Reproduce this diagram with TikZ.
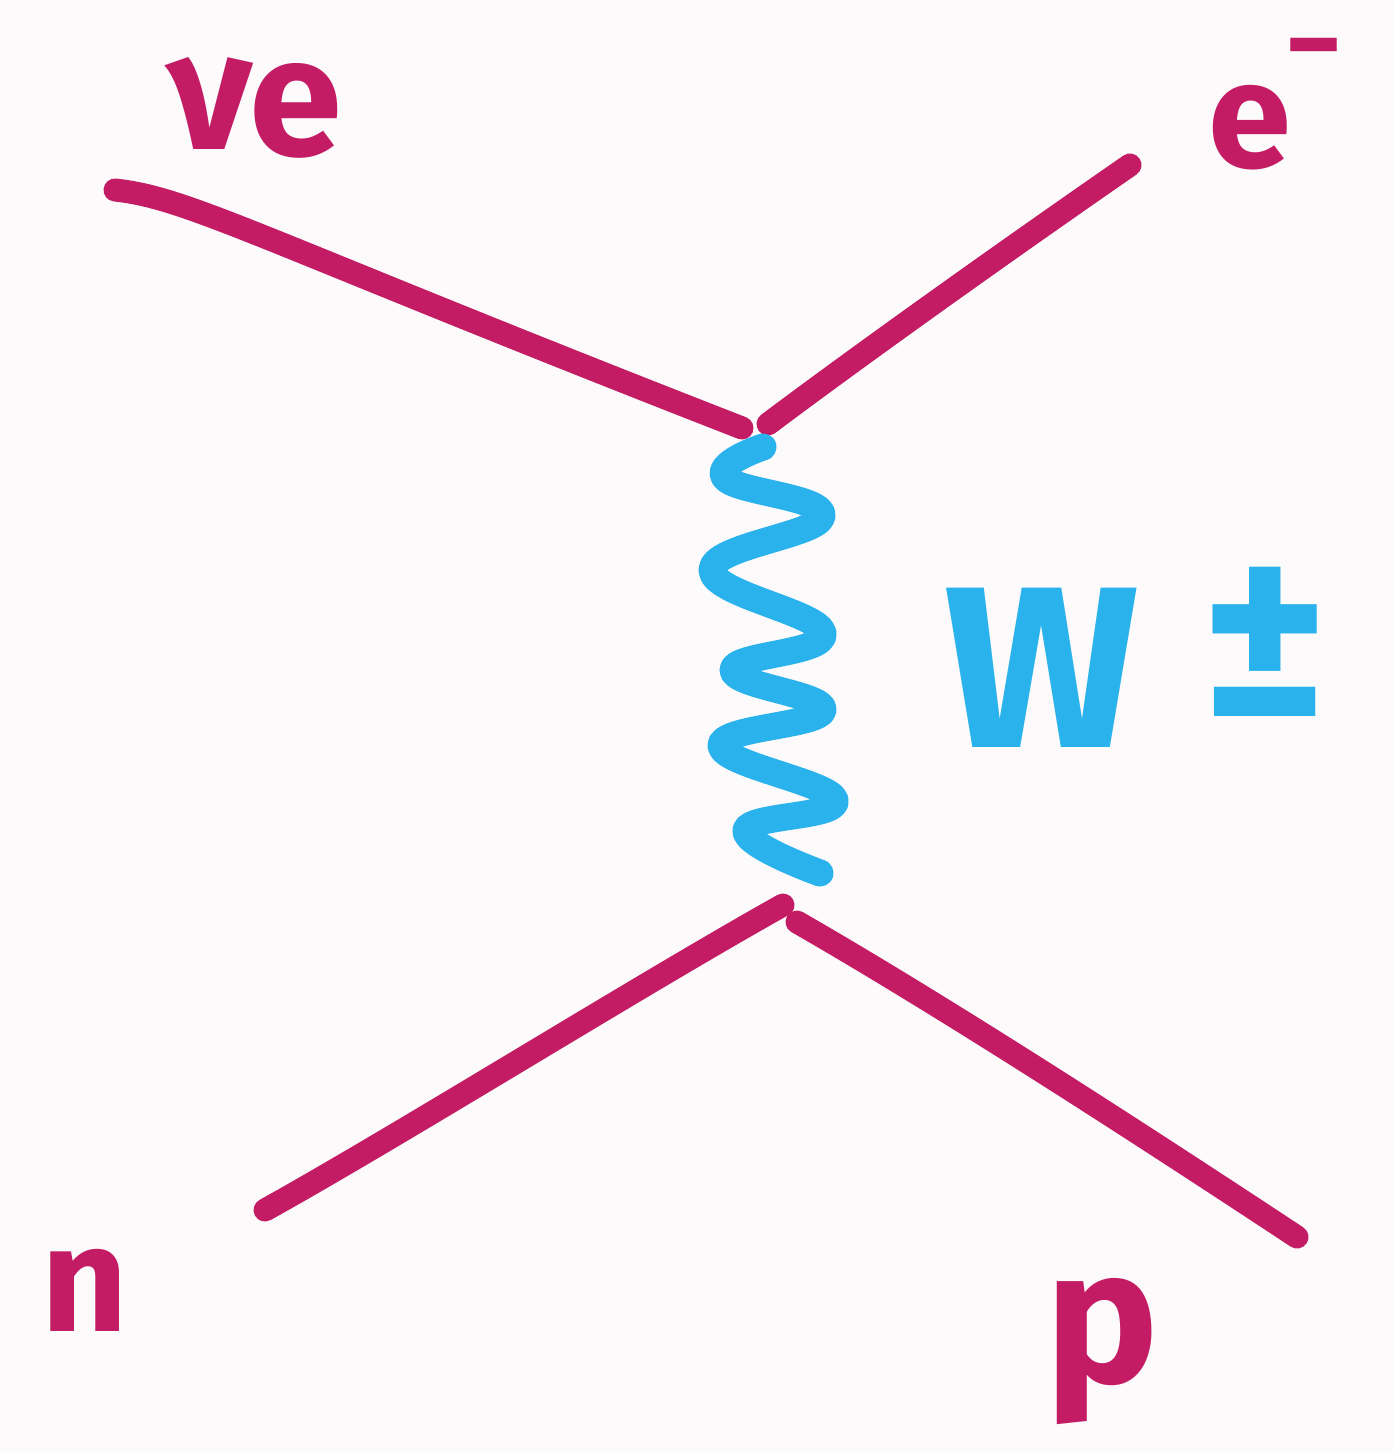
\documentclass[tikz,border=0pt]{standalone}
\usepackage{fontspec}
\setmainfont{Fira Sans}
\definecolor{fermion}{RGB}{196,28,100}
\definecolor{boson}{RGB}{41,178,236}
\definecolor{paper}{RGB}{252,250,251}
\begin{document}
\begin{tikzpicture}[x=1pt,y=-1pt,
  fline/.style={draw=fermion,line width=23pt,line cap=round,line join=round},
  wline/.style={draw=boson,line width=27pt,line cap=round,line join=round},
  flabel/.style={text=fermion,font=\bfseries\fontsize{150}{150}\selectfont,inner sep=0pt},
  wlabel/.style={text=boson,font=\bfseries\fontsize{230}{230}\selectfont,inner sep=0pt}]
\fill[paper] (0,0) rectangle (1393,1452);
\useasboundingbox (0,0) rectangle (1393,1452);
% vertices and external ends
\coordinate (nuin) at (115,190);
\coordinate (vtopL) at (742,428);
\coordinate (vtopR) at (768,424);
\coordinate (eout) at (1130,165);
\coordinate (nin) at (265,1210);
\coordinate (vbotL) at (783,905);
\coordinate (vbotR) at (797,922);
\coordinate (pout) at (1297,1237);
\coordinate (wtop) at (763,447);
\coordinate (wbot) at (820,873);
% fermion lines
\draw[fline] (nuin) .. controls (190,198) and (260,240) .. (vtopL);
\draw[fline] (vtopR) .. controls (860,355) and (1000,255) .. (eout);
\draw[fline] (nin) .. controls (400,1135) and (640,985) .. (vbotL);
\draw[fline] (vbotR) .. controls (950,1010) and (1150,1140) .. (pout);
% W boson
\draw[wline] plot[smooth,tension=0.75] coordinates {(wtop) (725,478) (822,516) (712,570) (823,633) (733,670) (823,710) (721,746) (835,800) (746,830) (wbot)};
% labels
\node[flabel,font=\bfseries\fontsize{168}{168}\selectfont] (lnu) at (255,108) {ν\kern-3pt\raisebox{-6pt}{e}};
\node[flabel] (le) at (1250,128) {e};
\node[flabel] (lminus) at (1314,60) {\fontsize{110}{110}\selectfont −};
\node[wlabel] (lW) at (1042,668) {W};
\node[wlabel] (lpm) at (1265,642) {\fontsize{240}{240}\selectfont ±};
\node[flabel] (ln) at (85,1290) {n};
\node[flabel,font=\bfseries\fontsize{190}{190}\selectfont] (lp) at (1102,1352) {p};
\end{tikzpicture}
\end{document}
